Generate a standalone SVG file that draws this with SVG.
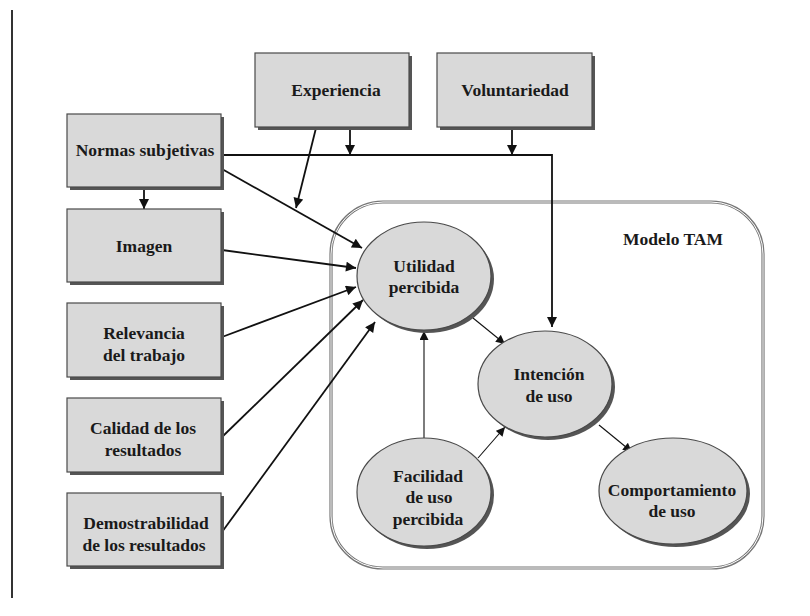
<svg xmlns="http://www.w3.org/2000/svg" width="810" height="616" viewBox="0 0 810 616">
<style>
.box{fill:#d9d9d9;stroke:#4a4a4a;stroke-width:1.2}
.sh{fill:#555}
.t{font-weight:bold;font-size:17.5px;fill:#1a1a1a;text-anchor:middle}
.c{fill:none;stroke:#111;stroke-width:1.8}
.ci{fill:none;stroke:#111;stroke-width:1.1}
</style>
<defs>
<marker id="ah" viewBox="0 0 10 10" refX="10" refY="5" markerWidth="11" markerHeight="10" markerUnits="userSpaceOnUse" orient="auto">
<path d="M0,0 L10,5 L0,10 Z" fill="#111"/>
</marker>
<marker id="ahs" viewBox="0 0 10 10" refX="10" refY="5" markerWidth="10" markerHeight="9" markerUnits="userSpaceOnUse" orient="auto">
<path d="M0,0 L10,5 L0,10 Z" fill="#111"/>
</marker>
</defs>
<rect width="810" height="616" fill="#fff"/>
<line x1="12" y1="10" x2="12" y2="598" stroke="#333" stroke-width="2"/>
<g font-family="Liberation Serif, DejaVu Serif, serif">
<g id="tam-container">
<rect x="331" y="202" width="432" height="366" rx="52" ry="52" fill="none" stroke="#777" stroke-width="3.2"/>
<rect x="331" y="202" width="432" height="366" rx="52" ry="52" fill="none" stroke="#fff" stroke-width="1"/>
<text class="t" x="673" y="245">Modelo TAM</text>
</g>

<g id="connectors">
<polyline class="c" points="222,155 552,155 552,327" marker-end="url(#ah)"/>
<line class="c" x1="350" y1="127" x2="350" y2="155" marker-end="url(#ah)"/>
<line class="c" x1="512" y1="127" x2="512" y2="155" marker-end="url(#ah)"/>
<line class="c" x1="316" y1="128" x2="296" y2="208" marker-end="url(#ah)"/>
<line class="c" x1="144" y1="187" x2="144" y2="209" marker-end="url(#ah)"/>
<line class="c" x1="222" y1="169" x2="362" y2="248" marker-end="url(#ah)"/>
<line class="c" x1="222" y1="250" x2="356" y2="268" marker-end="url(#ah)"/>
<line class="c" x1="222" y1="337" x2="356" y2="287" marker-end="url(#ah)"/>
<line class="c" x1="222" y1="437" x2="363" y2="300" marker-end="url(#ah)"/>
<line class="c" x1="222" y1="532" x2="375" y2="322" marker-end="url(#ah)"/>
<line class="ci" x1="473" y1="318" x2="505" y2="344" marker-end="url(#ahs)"/>
<line class="ci" x1="424" y1="438" x2="424" y2="331" marker-end="url(#ahs)"/>
<line class="ci" x1="478" y1="458" x2="505" y2="427" marker-end="url(#ahs)"/>
<line class="ci" x1="599" y1="425" x2="632" y2="452" marker-end="url(#ahs)"/>
</g>

<g id="experiencia">
<rect class="sh" x="258" y="56" width="154" height="74"/>
<rect class="box" x="255" y="53" width="154" height="74"/>
<text class="t" x="336" y="96">Experiencia</text>
</g>
<g id="voluntariedad">
<rect class="sh" x="440" y="56" width="155" height="74"/>
<rect class="box" x="437" y="53" width="155" height="74"/>
<text class="t" x="515" y="96">Voluntariedad</text>
</g>
<g id="normas">
<rect class="sh" x="70" y="117" width="154" height="73"/>
<rect class="box" x="67" y="114" width="154" height="73"/>
<text class="t" x="145" y="156">Normas subjetivas</text>
</g>
<g id="imagen">
<rect class="sh" x="70" y="212" width="154" height="73"/>
<rect class="box" x="67" y="209" width="154" height="73"/>
<text class="t" x="144" y="252">Imagen</text>
</g>
<g id="relevancia">
<rect class="sh" x="70" y="306" width="154" height="74"/>
<rect class="box" x="67" y="303" width="154" height="74"/>
<text class="t" x="144" y="339">Relevancia</text>
<text class="t" x="144" y="361">del trabajo</text>
</g>
<g id="calidad">
<rect class="sh" x="70" y="401" width="154" height="74"/>
<rect class="box" x="67" y="398" width="154" height="74"/>
<text class="t" x="143" y="434">Calidad de los</text>
<text class="t" x="143" y="456">resultados</text>
</g>
<g id="demostrabilidad">
<rect class="sh" x="70" y="496" width="154" height="73"/>
<rect class="box" x="67" y="493" width="154" height="73"/>
<text class="t" x="146" y="529">Demostrabilidad</text>
<text class="t" x="144" y="551">de los resultados</text>
</g>

<g id="utilidad">
<ellipse class="sh" cx="427" cy="279" rx="67" ry="54"/>
<ellipse class="box" cx="424" cy="276" rx="67" ry="54"/>
<text class="t" x="424" y="272">Utilidad</text>
<text class="t" x="424" y="293">percibida</text>
</g>
<g id="intencion">
<ellipse class="sh" cx="548" cy="387" rx="67" ry="53"/>
<ellipse class="box" cx="545" cy="384" rx="67" ry="53"/>
<text class="t" x="549" y="380">Intención</text>
<text class="t" x="549" y="402">de uso</text>
</g>
<g id="facilidad">
<ellipse class="sh" cx="427" cy="495" rx="67" ry="54"/>
<ellipse class="box" cx="424" cy="492" rx="67" ry="54"/>
<text class="t" x="428" y="482">Facilidad</text>
<text class="t" x="429" y="503">de uso</text>
<text class="t" x="428" y="525">percibida</text>
</g>
<g id="comportamiento">
<ellipse class="sh" cx="676" cy="494" rx="74" ry="53"/>
<ellipse class="box" cx="673" cy="491" rx="74" ry="53"/>
<text class="t" x="672" y="496">Comportamiento</text>
<text class="t" x="672" y="517">de uso</text>
</g>
</g>
</svg>
